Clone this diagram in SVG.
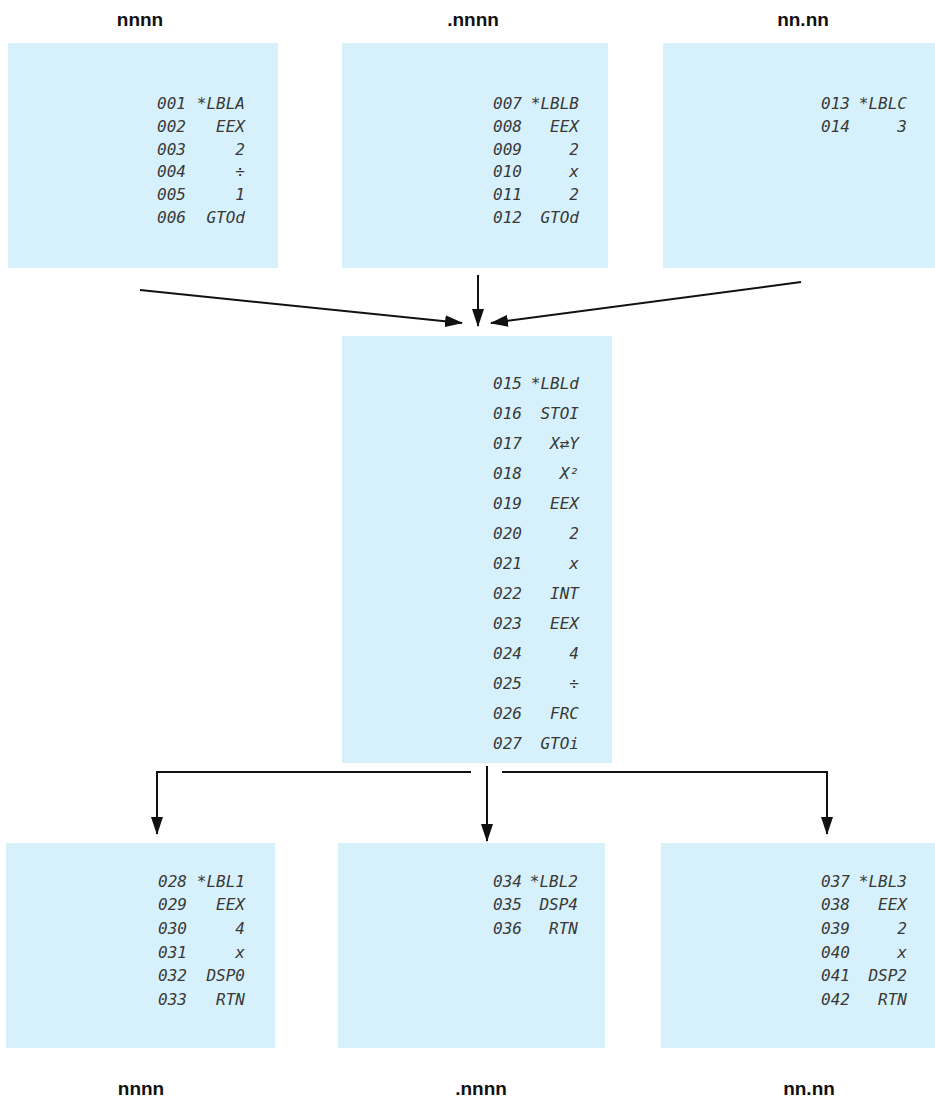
<svg xmlns="http://www.w3.org/2000/svg" width="935" height="1105" viewBox="0 0 935 1105">
<style>
.box{fill:#d6f1fb}
.lbl{font-family:"Liberation Sans",Arial,sans-serif;font-weight:bold;font-size:19px;fill:#111;text-anchor:middle}
.c{font-family:"DejaVu Sans Mono","Liberation Mono",monospace;font-style:italic;font-size:16px;fill:#383838}
.n{text-anchor:start}
.o{text-anchor:end}
.ln{stroke:#111;stroke-width:2;fill:none}
</style>
<defs>
<marker id="ah" markerWidth="18" markerHeight="12" refX="17" refY="6" orient="auto" markerUnits="userSpaceOnUse">
<path d="M0,0 L18,6 L0,12 Z" fill="#111"/>
</marker>
</defs>
<rect width="935" height="1105" fill="#ffffff"/>
<text class="lbl" x="140" y="26">nnnn</text>
<text class="lbl" x="473" y="26">.nnnn</text>
<text class="lbl" x="803" y="26">nn.nn</text>
<g id="boxA">
<rect class="box" x="8" y="43" width="270" height="225"/>
<text class="c n" x="157" y="109">001</text><text class="c o" x="245" y="109">*LBLA</text>
<text class="c n" x="157" y="132">002</text><text class="c o" x="245" y="132">EEX</text>
<text class="c n" x="157" y="155">003</text><text class="c o" x="245" y="155">2</text>
<text class="c n" x="157" y="177">004</text><text class="c o" x="245" y="177">÷</text>
<text class="c n" x="157" y="200">005</text><text class="c o" x="245" y="200">1</text>
<text class="c n" x="157" y="223">006</text><text class="c o" x="245" y="223">GTOd</text>
</g>
<g id="boxB">
<rect class="box" x="342" y="43" width="266" height="225"/>
<text class="c n" x="493" y="109">007</text><text class="c o" x="579" y="109">*LBLB</text>
<text class="c n" x="493" y="132">008</text><text class="c o" x="579" y="132">EEX</text>
<text class="c n" x="493" y="155">009</text><text class="c o" x="579" y="155">2</text>
<text class="c n" x="493" y="177">010</text><text class="c o" x="579" y="177">x</text>
<text class="c n" x="493" y="200">011</text><text class="c o" x="579" y="200">2</text>
<text class="c n" x="493" y="223">012</text><text class="c o" x="579" y="223">GTOd</text>
</g>
<g id="boxC">
<rect class="box" x="663" y="43" width="272" height="225"/>
<text class="c n" x="821" y="109">013</text><text class="c o" x="907" y="109">*LBLC</text>
<text class="c n" x="821" y="132">014</text><text class="c o" x="907" y="132">3</text>
</g>
<g id="boxD">
<rect class="box" x="342" y="336" width="270" height="427"/>
<text class="c n" x="493" y="389">015</text><text class="c o" x="579" y="389">*LBLd</text>
<text class="c n" x="493" y="419">016</text><text class="c o" x="579" y="419">STOI</text>
<text class="c n" x="493" y="449">017</text><text class="c o" x="579" y="449">X⇄Y</text>
<text class="c n" x="493" y="479">018</text><text class="c o" x="579" y="479">X²</text>
<text class="c n" x="493" y="509">019</text><text class="c o" x="579" y="509">EEX</text>
<text class="c n" x="493" y="539">020</text><text class="c o" x="579" y="539">2</text>
<text class="c n" x="493" y="569">021</text><text class="c o" x="579" y="569">x</text>
<text class="c n" x="493" y="599">022</text><text class="c o" x="579" y="599">INT</text>
<text class="c n" x="493" y="629">023</text><text class="c o" x="579" y="629">EEX</text>
<text class="c n" x="493" y="659">024</text><text class="c o" x="579" y="659">4</text>
<text class="c n" x="493" y="689">025</text><text class="c o" x="579" y="689">÷</text>
<text class="c n" x="493" y="719">026</text><text class="c o" x="579" y="719">FRC</text>
<text class="c n" x="493" y="749">027</text><text class="c o" x="579" y="749">GTOi</text>
</g>
<g id="boxE">
<rect class="box" x="6" y="843" width="269" height="205"/>
<text class="c n" x="158" y="887">028</text><text class="c o" x="245" y="887">*LBL1</text>
<text class="c n" x="158" y="910">029</text><text class="c o" x="245" y="910">EEX</text>
<text class="c n" x="158" y="934">030</text><text class="c o" x="245" y="934">4</text>
<text class="c n" x="158" y="958">031</text><text class="c o" x="245" y="958">x</text>
<text class="c n" x="158" y="981">032</text><text class="c o" x="245" y="981">DSP0</text>
<text class="c n" x="158" y="1005">033</text><text class="c o" x="245" y="1005">RTN</text>
</g>
<g id="boxF">
<rect class="box" x="338" y="843" width="267" height="205"/>
<text class="c n" x="493" y="887">034</text><text class="c o" x="578" y="887">*LBL2</text>
<text class="c n" x="493" y="910">035</text><text class="c o" x="578" y="910">DSP4</text>
<text class="c n" x="493" y="934">036</text><text class="c o" x="578" y="934">RTN</text>
</g>
<g id="boxG">
<rect class="box" x="661" y="843" width="274" height="205"/>
<text class="c n" x="821" y="887">037</text><text class="c o" x="907" y="887">*LBL3</text>
<text class="c n" x="821" y="910">038</text><text class="c o" x="907" y="910">EEX</text>
<text class="c n" x="821" y="934">039</text><text class="c o" x="907" y="934">2</text>
<text class="c n" x="821" y="958">040</text><text class="c o" x="907" y="958">x</text>
<text class="c n" x="821" y="981">041</text><text class="c o" x="907" y="981">DSP2</text>
<text class="c n" x="821" y="1005">042</text><text class="c o" x="907" y="1005">RTN</text>
</g>
<text class="lbl" x="141" y="1095">nnnn</text>
<text class="lbl" x="481" y="1095">.nnnn</text>
<text class="lbl" x="809" y="1095">nn.nn</text>
<g id="connectors">
<line class="ln" x1="140" y1="290" x2="462" y2="323" marker-end="url(#ah)"/>
<line class="ln" x1="478" y1="275" x2="478" y2="326" marker-end="url(#ah)"/>
<line class="ln" x1="801" y1="282" x2="491" y2="323" marker-end="url(#ah)"/>
<polyline class="ln" points="471,772 157,772 157,834" marker-end="url(#ah)"/>
<line class="ln" x1="487" y1="766" x2="487" y2="841" marker-end="url(#ah)"/>
<polyline class="ln" points="502,772 827,772 827,834" marker-end="url(#ah)"/>
</g>
</svg>
